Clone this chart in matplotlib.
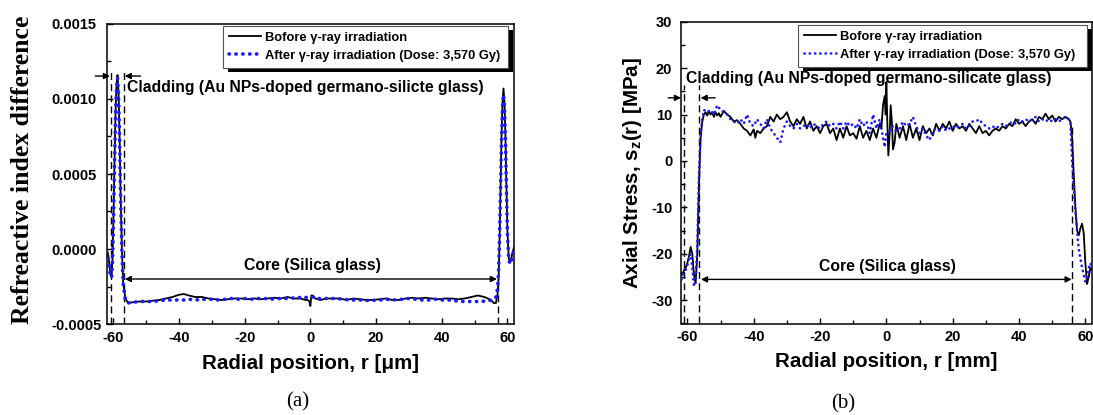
import matplotlib
matplotlib.use("Agg")
import matplotlib.pyplot as plt
from matplotlib.ticker import MultipleLocator, FormatStrFormatter
from matplotlib.patches import Rectangle

plt.rcParams['font.family'] = ['Liberation Sans', 'DejaVu Sans']
plt.rcParams['font.weight'] = 'bold'
plt.rcParams['axes.unicode_minus'] = False
plt.rcParams['mathtext.fontset'] = 'custom'
plt.rcParams['mathtext.rm'] = 'Liberation Sans:bold'
plt.rcParams['mathtext.it'] = 'Liberation Sans:bold'
plt.rcParams['mathtext.bf'] = 'Liberation Sans:bold'

# ---------------- data: panel (a) refractive index difference ----------------
a_before_r = [
    -62.0, -61.6, -61.2, -60.9, -60.5, -60.2, -59.9, -59.6, -59.3, -59.0,
    -58.7, -58.4, -58.1, -57.8, -57.4, -57.0, -56.3, -55.5, -54, -52,
    -50, -48, -46, -44, -42, -40, -38.5, -37, -35, -33,
    -31, -29, -27, -25, -23, -21, -19, -17, -15, -13,
    -11, -9, -7, -5, -3, -1.5, -0.8, -0.3, 0.0, 0.3,
    0.8, 1.5, 3, 5, 7, 9, 11, 13, 15, 17,
    19, 21, 23, 25, 27, 29, 31, 33, 35, 37,
    39, 41, 43, 45, 47, 49, 51, 53, 55, 55.8,
    56.5, 57.0, 57.3, 57.6, 57.9, 58.2, 58.5, 58.8, 59.1, 59.4,
    59.7, 60.0, 60.4, 60.8, 61.2, 61.6, 62.0]
a_before_n = [
    -0.00001, -0.00003, -0.00010, -0.00017, -0.00018, -0.00005, 0.00025, 0.00060, 0.00092, 0.00110,
    0.00116, 0.00105, 0.00078, 0.00040, 0.00002, -0.00022, -0.00033, -0.00036, -0.000355, -0.00035,
    -0.00035, -0.000345, -0.00034, -0.00033, -0.00032, -0.000305, -0.00030, -0.00031, -0.00032, -0.00032,
    -0.00033, -0.000335, -0.00034, -0.000335, -0.00033, -0.00033, -0.000335, -0.00033, -0.000335, -0.00033,
    -0.000325, -0.00033, -0.00032, -0.00033, -0.00033, -0.00034, -0.00034, -0.00035, -0.00038, -0.00031,
    -0.00031, -0.00033, -0.00034, -0.00033, -0.00033, -0.00033, -0.00034, -0.00033, -0.000335, -0.00034,
    -0.00034, -0.000335, -0.00033, -0.00034, -0.00034, -0.00033, -0.000325, -0.00033, -0.000325, -0.00033,
    -0.000335, -0.00033, -0.00033, -0.000335, -0.00033, -0.00032, -0.00031, -0.00032, -0.00034, -0.00036,
    -0.00036, -0.00030, -0.00020, 0.00005, 0.00040, 0.00075, 0.00098, 0.00107, 0.00098, 0.00075,
    0.00042, 0.00012, -0.00006, -0.00009, -0.00006, -0.00002, 0.00001]

a_after_r = [
    -62.0, -61.6, -61.2, -60.9, -60.5, -60.2, -59.9, -59.6, -59.3, -59.0,
    -58.7, -58.4, -58.1, -57.8, -57.4, -57.0, -56.3, -55.5,
    -54, -52, -50, -48, -46, -44, -42, -40, -38, -36,
    -34, -32, -30, -28, -26, -24, -22, -20, -18, -16,
    -14, -12, -10, -8, -6, -4, -2, -1, 0, 1,
    2, 4, 6, 8, 10, 12, 14, 16, 18, 20,
    22, 24, 26, 28, 30, 32, 34, 36, 38, 40,
    42, 44, 46, 48, 50, 52, 54, 55.5, 56.5, 57.0,
    57.3, 57.6, 57.9, 58.2, 58.5, 58.8, 59.1, 59.4, 59.7, 60.0,
    60.4, 60.8, 61.2, 61.6, 62.0]
a_after_n = [
    -0.00002, -0.00005, -0.00012, -0.00018, -0.00019, -0.00007, 0.00022, 0.00058, 0.00090, 0.00108,
    0.00114, 0.00103, 0.00076, 0.00038, 0.00000, -0.00023, -0.00034, -0.00036,
    -0.000355, -0.00035, -0.00035, -0.00035, -0.000345, -0.00034, -0.00034, -0.00034, -0.00034, -0.000335,
    -0.00034, -0.000335, -0.000335, -0.00034, -0.000335, -0.00033, -0.000335, -0.00033, -0.000335, -0.00033,
    -0.00033, -0.000335, -0.00033, -0.00033, -0.00033, -0.00032, -0.00033, -0.00032, -0.00032, -0.00032,
    -0.00033, -0.00033, -0.00033, -0.00033, -0.000335, -0.00034, -0.00034, -0.00034, -0.000345, -0.00034,
    -0.00034, -0.000335, -0.00034, -0.000335, -0.00033, -0.000335, -0.00034, -0.00034, -0.000335, -0.00034,
    -0.00034, -0.000345, -0.00035, -0.00035, -0.00035, -0.00035, -0.000345, -0.00034, -0.00032, -0.00026,
    -0.00015, 0.00008, 0.00040, 0.00073, 0.00095, 0.00103, 0.00095, 0.00072, 0.00040, 0.00010,
    -0.00007, -0.00010, -0.00008, -0.00004, -0.00001]

# ---------------- data: panel (b) axial stress ----------------
b_before_r = [
    -62.5, -62, -61.5, -61, -60.5, -60, -59.5, -59, -58.5, -58,
    -57.5, -57, -56.5, -56, -55.5, -55, -54.5, -54, -53.5, -53,
    -52.5, -52, -51.5, -51, -50.5, -50, -49, -48, -47, -46,
    -45, -44, -43, -42, -41, -40, -39.5, -39, -38, -37,
    -36, -35, -34, -33, -32, -31, -30, -29, -28, -27,
    -26, -25, -24, -23, -22, -21, -20, -19, -18, -17,
    -16, -15, -14, -13, -12, -11, -10, -9, -8, -7,
    -6, -5, -4, -3, -2, -1.5, -1, -0.5, -0.2, 0,
    0.3, 0.6, 1, 1.3, 1.7, 2, 2.5, 3, 4, 5,
    6, 7, 8, 9, 10, 11, 12, 13, 14, 15,
    16, 17, 18, 19, 20, 21, 22, 23, 24, 25,
    26, 27, 28, 29, 30, 31, 32, 33, 34, 35,
    36, 37, 38, 39, 40, 41, 42, 43, 44, 45,
    46, 47, 48, 49, 50, 51, 52, 53, 54, 55,
    55.5, 56, 56.5, 57, 57.5, 58, 58.5, 59, 59.5, 60,
    60.5, 61, 61.5, 62, 62.5]
b_before_s = [
    -25, -24, -24.5, -23.5, -23, -22, -20.5, -18.5, -20, -24.5,
    -26.3, -20, -5, 5, 8.5, 10, 10.5, 9.8, 10.8, 10,
    10.5, 9.5, 10.5, 9.8, 10.3, 9.5, 10.8, 10, 9.5, 8.5,
    8.8, 8, 7, 6.5, 5.5, 6.8, 5, 6.5, 6, 7,
    7.5, 9.5, 8.5, 10, 9, 9.5, 10.5, 8.5, 7.5, 9,
    8, 9.5, 7, 8.5, 6.5, 7.5, 6, 7.5, 8, 6,
    7, 4.5, 7, 5, 7.5, 5.5, 6, 4.8, 7.5, 5,
    6.5, 4.5, 7, 5, 8, 7, 12, 14, 10, 17,
    8, 1.2, 6, 12, 8, 2.5, 4, 8, 5, 7.5,
    4.5, 8, 5, 7, 4.5, 7.5, 6, 7, 5.5, 8,
    6.5, 8, 7, 8.5, 6.5, 8, 7, 7.5, 6.5, 8,
    7, 6, 7.5, 6, 6.5, 5.5, 6.5, 7, 6.5, 7.5,
    7, 8, 7.5, 9, 8, 8.5, 7.5, 8.5, 9, 8,
    9.5, 9, 10.2, 9, 9.8, 8.5, 9.5, 9, 9.5, 9,
    8.5, 5, -3, -10, -15, -16, -14.5, -13.5, -15.5, -22,
    -26.5, -25, -23, -23.5, -23]

b_after_r = [
    -62.5, -62, -61.5, -61, -60.5, -60, -59.5, -59, -58.5, -58,
    -57.5, -57, -56.5, -56, -55.5, -55, -54, -53, -52, -51,
    -50, -49, -48, -47, -46, -45, -44, -43, -42, -41,
    -40, -39, -38, -37, -36, -35, -34, -33, -32, -31,
    -30, -29, -28, -27, -26, -25, -24, -23, -22, -21,
    -20, -19, -18, -17, -16, -15, -14, -13, -12, -11,
    -10, -9, -8, -7, -6, -5, -4, -3, -2, -1,
    -0.5, 0, 1, 2, 3, 4, 5, 6, 7, 8,
    9, 10, 11, 12, 13, 14, 15, 16, 17, 18,
    19, 20, 21, 22, 23, 24, 25, 26, 27, 28,
    29, 30, 31, 32, 33, 34, 35, 36, 37, 38,
    39, 40, 41, 42, 43, 44, 45, 46, 47, 48,
    49, 50, 51, 52, 53, 54, 55, 55.5, 56, 56.5,
    57, 57.5, 58, 58.5, 59, 59.5, 60, 60.5, 61, 61.5,
    62, 62.5]
b_after_s = [
    -30, -26, -25, -24, -23.5, -22.5, -21, -20, -23, -27,
    -26, -18, -3, 6, 9, 11, 10.5, 11, 10, 12,
    11, 10.5, 10, 9, 8.5, 8, 9, 8, 10, 8,
    7.5, 9, 8, 7, 9, 7, 6, 5, 4, 7,
    8.5, 7.5, 7, 8, 7, 7.5, 8, 7, 8, 7.5,
    7, 8, 8.5, 7.5, 8, 7, 8.5, 7, 8.5, 7.5,
    8, 7, 9, 7.5, 8.5, 6, 10, 7, 9, 5,
    3, 6, 6.5, 7.5, 6.5, 7, 8.5, 7.5, 8, 9.5,
    7.5, 6, 7, 5.5, 4.5, 6.5, 7, 6.5, 7.5, 6.5,
    7, 7.5, 7, 7.5, 8, 7, 7.5, 8.5, 8.5, 9,
    8, 7.5, 7, 7.5, 7, 7.5, 8, 7.5, 8, 8.5,
    8, 9, 8.5, 9, 8.5, 9, 9.5, 8.5, 9, 8.5,
    9, 8.5, 9, 8.5, 9, 9.5, 9, 8, 0, -6,
    -11, -15, -19, -21, -23, -24.5, -26, -25.5, -23, -22,
    -23, -22]

label_before = "Bofore \u03b3-ray irradiation"
label_after = "After \u03b3-ray irradiation (Dose: 3,570 Gy)"

assert len(a_before_r) == len(a_before_n)
assert len(a_after_r) == len(a_after_n)
assert len(b_before_r) == len(b_before_s)
assert len(b_after_r) == len(b_after_s)

W, H = 1093, 415
fig = plt.figure(figsize=(W / 100, H / 100), dpi=100)

def frac(l, t, r, b):
    return [l / W, 1 - b / H, (r - l) / W, (b - t) / H]

axa = fig.add_axes(frac(106.7, 24, 514, 324))
axb = fig.add_axes(frac(680.7, 21.7, 1092, 323.5))

BLUE = '#1a1aff'
TICKFS = 10.5
ANNFS = 11.3

def style_axis(ax):
    for s in ax.spines.values():
        s.set_linewidth(1.1)
    ax.tick_params(which='both', direction='in', top=False, right=False,
                   labelsize=TICKFS, width=1.0)
    ax.tick_params(which='major', length=4.5)
    ax.tick_params(which='minor', length=2.8)
    ax.xaxis.set_major_locator(MultipleLocator(20))
    ax.xaxis.set_minor_locator(MultipleLocator(10))
    ax.set_xlim(-62, 62)
    for lab in ax.get_xticklabels() + ax.get_yticklabels():
        lab.set_fontweight('bold')

# ---------- panel (a) ----------
axa.plot(a_before_r, a_before_n, color='black', lw=1.3, label=label_before, zorder=3)
axa.plot(a_after_r, a_after_n, color=BLUE, lw=2.6, linestyle=(0, (0.1, 1.8)),
         dash_capstyle='round', label=label_after, zorder=4)
axa.set_ylim(-0.0005, 0.0015)
axa.yaxis.set_major_locator(MultipleLocator(0.0005))
axa.yaxis.set_minor_locator(MultipleLocator(0.00025))
axa.yaxis.set_major_formatter(FormatStrFormatter('%.4f'))
style_axis(axa)
axa.tick_params(axis='y', pad=40)
for lab in axa.get_yticklabels():
    lab.set_horizontalalignment('left')
axa.tick_params(axis='x', pad=5)
axa.set_xlabel("Radial position, r [\u03bcm]", fontsize=14.8, fontweight='bold')
axa.xaxis.set_label_coords(0.5, -0.1)
axa.set_ylabel("Refreactive index difference", fontsize=18.5, fontweight='bold',
               family=['Liberation Serif'])
axa.yaxis.label.set_va('center')
axa.yaxis.set_label_coords(-0.206, 0.515)

dash = dict(color='black', lw=1.0, linestyle=(0, (5, 3)), zorder=2)
axa.plot([-60.6, -60.6], [-0.0005, 0.00119], **dash)
axa.plot([-56.8, -56.8], [-0.0005, 0.00119], **dash)
axa.plot([57.2, 57.2], [-0.0005, -0.0002], **dash)
arr = dict(arrowstyle='-|>', color='black', lw=1.0, mutation_scale=9, shrinkA=0, shrinkB=0)
arr2 = dict(arrowstyle='<|-|>', color='black', lw=1.0, mutation_scale=9, shrinkA=0, shrinkB=0)
axa.annotate('', xy=(-61.0, 0.001153), xytext=(-65.5, 0.001153), arrowprops=arr,
             annotation_clip=False)
axa.annotate('', xy=(-56.5, 0.001153), xytext=(-51.7, 0.001153), arrowprops=arr,
             annotation_clip=False)
axa.annotate('', xy=(-56.5, -0.0002), xytext=(56.8, -0.0002), arrowprops=arr2)
axa.text(-55.9, 0.001078, "Cladding (Au NPs-doped germano-silicte glass)",
         fontsize=ANNFS, fontweight='bold', ha='left', va='center')
axa.text(0.6, -0.000111, "Core (Silica glass)", fontsize=ANNFS, fontweight='bold',
         ha='center', va='center')

# ---------- panel (b) ----------
axb.plot(b_before_r, b_before_s, color='black', lw=1.3, label=label_before, zorder=3)
axb.plot(b_after_r, b_after_s, color=BLUE, lw=1.9, linestyle=(0, (0.1, 1.9)),
         dash_capstyle='round', label=label_after, zorder=4)
axb.set_ylim(-35, 30)
axb.yaxis.set_major_locator(MultipleLocator(10))
axb.yaxis.set_minor_locator(MultipleLocator(5))
style_axis(axb)
axb.tick_params(axis='y', pad=6)
axb.tick_params(axis='x', pad=5)
axb.set_xlabel("Radial position, r [mm]", fontsize=14.8, fontweight='bold')
axb.xaxis.set_label_coords(0.5, -0.094)
axb.set_ylabel(r"Axial Stress, s$_{z}$(r) [MPa]", fontsize=14.8, fontweight='bold')
axb.yaxis.label.set_va('center')
axb.yaxis.set_label_coords(-0.118, 0.5)

axb.plot([-60.9, -60.9], [-35, 16.4], **dash)
axb.plot([-56.4, -56.4], [-35, 16.4], **dash)
axb.plot([56.1, 56.1], [-35, 8], **dash)
axb.annotate('', xy=(-61.9, 13.6), xytext=(-65.8, 13.6), arrowprops=arr,
             annotation_clip=False)
axb.annotate('', xy=(-56.0, 13.6), xytext=(-51.6, 13.6), arrowprops=arr,
             annotation_clip=False)
axb.annotate('', xy=(-55.9, -25.5), xytext=(55.9, -25.5), arrowprops=arr2)
axb.text(-60.4, 17.8, "Cladding (Au NPs-doped germano-silicate glass)",
         fontsize=ANNFS, fontweight='bold', ha='left', va='center')
axb.text(0.4, -22.8, "Core (Silica glass)", fontsize=ANNFS, fontweight='bold',
         ha='center', va='center')

# ---------- legends with solid black drop shadow ----------
def make_legend(ax, x0, x1, ytop):
    leg = ax.legend(loc='upper left', bbox_to_anchor=(x0, ytop - 0.2, x1 - x0, 0.2),
                    mode='expand', borderaxespad=0, fancybox=False, framealpha=1,
                    edgecolor='#555555', handlelength=2.5,
                    handletextpad=0.3, labelspacing=0.45, borderpad=0.45,
                    prop={'weight': 'bold', 'size': 9.3})
    leg.get_frame().set_linewidth(0.8)
    leg.set_zorder(6)
    return leg

lega = make_legend(axa, 0.286, 0.985, 0.993)
legb = make_legend(axb, 0.285, 0.988, 0.989)

fig.canvas.draw()
inv = fig.transFigure.inverted()
for ax, leg in ((axa, lega), (axb, legb)):
    bb = leg.get_frame().get_window_extent()
    dx, dy = 5, 4
    x0, y0 = inv.transform((bb.x0 + dx, bb.y0 - dy))
    x1, y1 = inv.transform((bb.x1 + dx, bb.y1 - dy))
    sh = Rectangle((x0, y0), x1 - x0, y1 - y0, transform=fig.transFigure,
                   facecolor='black', edgecolor='none', zorder=5.5, clip_on=False)
    ax.add_artist(sh)

fig.text(298 / W, 1 - 402 / H, "(a)", fontsize=15, family=['Liberation Serif'],
         fontweight='normal', ha='center', va='center')
fig.text(843 / W, 1 - 404 / H, "(b)", fontsize=15, family=['Liberation Serif'],
         fontweight='normal', ha='center', va='center')

fig.savefig("out.png", dpi=100)
